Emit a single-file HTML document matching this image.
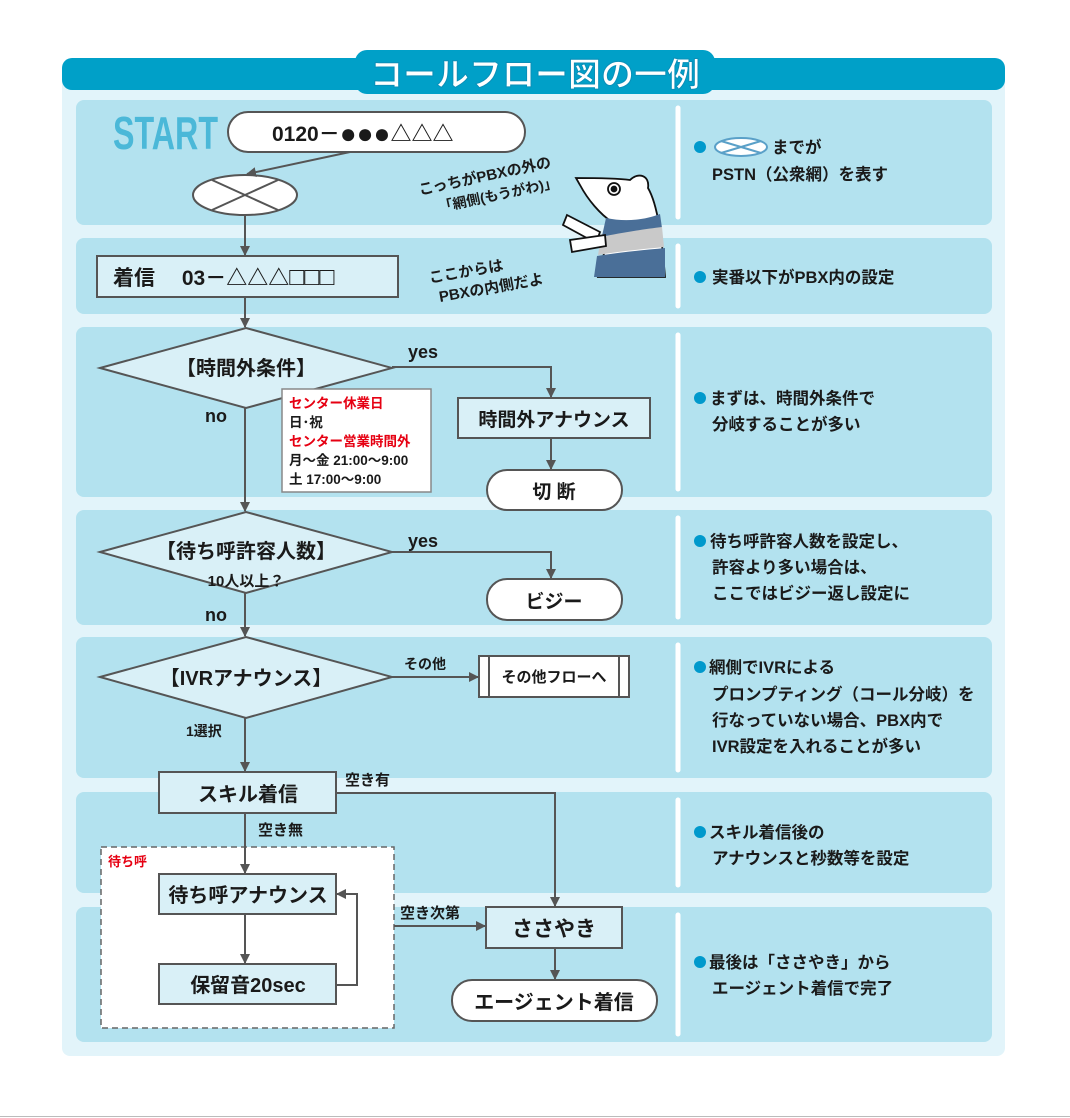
<!DOCTYPE html>
<html><head><meta charset="utf-8"><style>
html,body{margin:0;padding:0;background:#fff;}
svg{display:block;}
text{font-family:"Liberation Sans","Noto Sans CJK JP",sans-serif;fill:#1a1a1a;font-weight:bold;}
</style></head><body>
<svg width="1070" height="1118" viewBox="0 0 1070 1118" xmlns="http://www.w3.org/2000/svg">
<defs>
<marker id="a" markerWidth="10" markerHeight="10" refX="9" refY="5" orient="auto" markerUnits="userSpaceOnUse">
<path d="M0,0 L10,5 L0,10 Z" fill="#555"/></marker>
</defs>
<rect x="0" y="0" width="1070" height="1118" fill="#fff"/>
<line x1="0" y1="1116.5" x2="1070" y2="1116.5" stroke="#bbb" stroke-width="1"/>
<rect x="62" y="70" width="943" height="986" rx="8" fill="#e2f4fa"/>
<rect x="62" y="58" width="943" height="32" rx="10" fill="#00a0c8"/>
<rect x="355" y="50" width="360" height="44" rx="12" fill="#00a0c8"/>
<text x="535" y="86" text-anchor="middle" font-size="33" style="fill:#fff" stroke="#0a8fb8" stroke-width="1">コールフロー図の一例</text>
<g fill="#b3e2ef">
<rect x="76" y="100" width="916" height="125" rx="8"/>
<rect x="76" y="238" width="916" height="76" rx="8"/>
<rect x="76" y="327" width="916" height="170" rx="8"/>
<rect x="76" y="510" width="916" height="115" rx="8"/>
<rect x="76" y="637" width="916" height="141" rx="8"/>
<rect x="76" y="792" width="916" height="101" rx="8"/>
<rect x="76" y="907" width="916" height="135" rx="8"/>
</g>
<g stroke="#fff" stroke-width="5" stroke-linecap="round">
<line x1="678" y1="108" x2="678" y2="217"/>
<line x1="678" y1="246" x2="678" y2="306"/>
<line x1="678" y1="335" x2="678" y2="489"/>
<line x1="678" y1="518" x2="678" y2="617"/>
<line x1="678" y1="645" x2="678" y2="770"/>
<line x1="678" y1="800" x2="678" y2="885"/>
<line x1="678" y1="915" x2="678" y2="1034"/>
</g>
<text x="113" y="149" font-size="46" style="fill:#4bb8d8" textLength="105" lengthAdjust="spacingAndGlyphs">START</text>
<g stroke="#555" stroke-width="2">
<rect x="228" y="112" width="297" height="40" rx="20" fill="#fff"/>
<ellipse cx="245" cy="195" rx="52" ry="20" fill="#fff"/>
<line x1="212" y1="180" x2="278" y2="210"/><line x1="212" y1="210" x2="278" y2="180"/>
<rect x="97" y="256" width="301" height="41" fill="#d9f0f7"/>
<polygon points="100,368 246,328 392,368 246,408" fill="#d9f0f7"/>
<rect x="458" y="398" width="192" height="40" fill="#d9f0f7"/>
<rect x="487" y="470" width="135" height="40" rx="20" fill="#fff"/>
<polygon points="100,552 246,512 392,552 246,593" fill="#d9f0f7"/>
<rect x="487" y="579" width="135" height="41" rx="20" fill="#fff"/>
<polygon points="100,677 246,637 392,677 246,718" fill="#d9f0f7"/>
<rect x="479" y="656" width="150" height="41" fill="#fff"/>
<line x1="489" y1="656" x2="489" y2="697"/><line x1="619" y1="656" x2="619" y2="697"/>
<rect x="159" y="772" width="177" height="41" fill="#d9f0f7"/>
<rect x="486" y="907" width="136" height="41" fill="#d9f0f7"/>
<rect x="452" y="980" width="205" height="41" rx="20" fill="#fff"/>
</g>
<rect x="101" y="847" width="293" height="181" fill="#fff" stroke="#666" stroke-width="1.5" stroke-dasharray="6,4"/>
<g stroke="#555" stroke-width="2">
<rect x="159" y="874" width="177" height="40" fill="#d9f0f7"/>
<rect x="159" y="964" width="177" height="40" fill="#d9f0f7"/>
</g>
<rect x="282" y="389" width="149" height="103" fill="#fff" stroke="#888" stroke-width="1.5"/>
<g stroke="#555" stroke-width="2" fill="none">
<line x1="350" y1="152" x2="247" y2="174" marker-end="url(#a)"/>
<line x1="245" y1="215" x2="245" y2="255" marker-end="url(#a)"/>
<line x1="245" y1="297" x2="245" y2="327" marker-end="url(#a)"/>
<polyline points="392,367 551,367 551,397" marker-end="url(#a)"/>
<line x1="551" y1="438" x2="551" y2="469" marker-end="url(#a)"/>
<line x1="245" y1="408" x2="245" y2="511" marker-end="url(#a)"/>
<polyline points="392,552 551,552 551,578" marker-end="url(#a)"/>
<line x1="245" y1="593" x2="245" y2="636" marker-end="url(#a)"/>
<line x1="392" y1="677" x2="478" y2="677" marker-end="url(#a)"/>
<line x1="245" y1="718" x2="245" y2="771" marker-end="url(#a)"/>
<polyline points="336,793 555,793 555,906" marker-end="url(#a)"/>
<line x1="245" y1="813" x2="245" y2="873" marker-end="url(#a)"/>
<line x1="245" y1="914" x2="245" y2="963" marker-end="url(#a)"/>
<polyline points="336,985 357,985 357,894 337,894" marker-end="url(#a)"/>
<line x1="394" y1="926" x2="485" y2="926" marker-end="url(#a)"/>
<line x1="555" y1="948" x2="555" y2="979" marker-end="url(#a)"/>
</g>
<text x="272" y="141" font-size="21">0120－<tspan font-size="28" dy="2">●●●</tspan><tspan dy="-2">△△△</tspan></text>
<text x="113" y="285" font-size="21">着信　 03－△△△<tspan font-size="25">□□□</tspan></text>
<text x="246" y="375" text-anchor="middle" font-size="20">【時間外条件】</text>
<text x="554" y="426" text-anchor="middle" font-size="19">時間外アナウンス</text>
<text x="554" y="498" text-anchor="middle" font-size="19">切 断</text>
<text x="246" y="558" text-anchor="middle" font-size="20">【待ち呼許容人数】</text>
<text x="246" y="586" text-anchor="middle" font-size="15">10人以上？</text>
<text x="554" y="608" text-anchor="middle" font-size="19">ビジー</text>
<text x="246" y="685" text-anchor="middle" font-size="20">【IVRアナウンス】</text>
<text x="554" y="682" text-anchor="middle" font-size="15">その他フローへ</text>
<text x="248" y="801" text-anchor="middle" font-size="20">スキル着信</text>
<text x="248" y="902" text-anchor="middle" font-size="20">待ち呼アナウンス</text>
<text x="248" y="992" text-anchor="middle" font-size="20">保留音20sec</text>
<text x="554" y="936" text-anchor="middle" font-size="21">ささやき</text>
<text x="554" y="1009" text-anchor="middle" font-size="20">エージェント着信</text>
<g style="font-weight:normal">
<text x="408" y="358" font-size="18">yes</text>
<text x="205" y="422" font-size="18">no</text>
<text x="408" y="547" font-size="18">yes</text>
<text x="205" y="621" font-size="18">no</text>
</g>
<text x="404" y="669" font-size="14">その他</text>
<text x="186" y="736" font-size="14">1選択</text>
<text x="345" y="785" font-size="15">空き有</text>
<text x="258" y="835" font-size="15">空き無</text>
<text x="108" y="866" font-size="13" style="fill:#e60012">待ち呼</text>
<text x="400" y="918" font-size="15">空き次第</text>
<g font-size="13.5">
<text x="289" y="408" style="fill:#e60012">センター休業日</text>
<text x="289" y="427">日･祝</text>
<text x="289" y="446" style="fill:#e60012">センター営業時間外</text>
<text x="289" y="465">月～金 21:00～9:00</text>
<text x="289" y="484">土 17:00～9:00</text>
</g>
<g style="font-weight:normal" font-size="15">
<text x="420" y="195" transform="rotate(-12 420 195)">こっちがPBXの外の</text>
<text x="440" y="212" transform="rotate(-12 440 212)" font-size="14">「網側(もうがわ)」</text>
<text x="430" y="283" transform="rotate(-10 430 283)">ここからは</text>
<text x="440" y="302" transform="rotate(-10 440 302)">PBXの内側だよ</text>
</g>
<g stroke="#111" stroke-width="1.8">
<path d="M598,277 L612,222 C600,214 588,200 580,185 L576,178 C592,178 615,178 630,180 C638,172 650,175 648,188 C658,205 662,240 665,277 Z" fill="#fff"/>
<path d="M606,218 C625,222 645,220 660,214 L662,228 C645,232 620,236 602,236 Z" fill="#4a6f98" stroke="none"/>
<path d="M601,237 C620,233 645,229 662,227 L664,247 C645,249 620,251 598,255 Z" fill="#c9c9c9" stroke="none"/>
<path d="M597,256 C620,252 645,250 665,248 L665,277 L594,277 Z" fill="#4a6f98" stroke="none"/>
<circle cx="614" cy="189" r="6" fill="#fff"/><circle cx="614" cy="189" r="2.5" fill="#111"/>
<path d="M567,215 L600,232 L596,243 L563,225 Z" fill="#fff"/>
<path d="M570,240 L605,235 L606,246 L572,252 Z" fill="#fff"/>
</g>
<g font-size="16.5">
<circle cx="700" cy="147" r="6" fill="#0099cc"/>
<ellipse cx="741" cy="147" rx="26" ry="9" fill="#fff" stroke="#5aa0c8" stroke-width="2"/>
<line x1="721" y1="141" x2="761" y2="153" stroke="#5aa0c8" stroke-width="2"/><line x1="721" y1="153" x2="761" y2="141" stroke="#5aa0c8" stroke-width="2"/>
<text x="772" y="153">までが</text>
<text x="712" y="180">PSTN（公衆網）を表す</text>
<circle cx="700" cy="277" r="6" fill="#0099cc"/>
<text x="712" y="283">実番以下がPBX内の設定</text>
<circle cx="700" cy="398" r="6" fill="#0099cc"/>
<text x="710" y="404">まずは、時間外条件で</text>
<text x="712" y="430">分岐することが多い</text>
<circle cx="700" cy="541" r="6" fill="#0099cc"/>
<text x="710" y="547">待ち呼許容人数を設定し、</text>
<text x="712" y="573">許容より多い場合は、</text>
<text x="712" y="599">ここではビジー返し設定に</text>
<circle cx="700" cy="667" r="6" fill="#0099cc"/>
<text x="709" y="673">網側でIVRによる</text>
<text x="712" y="700">プロンプティング（コール分岐）を</text>
<text x="712" y="726">行なっていない場合、PBX内で</text>
<text x="712" y="752">IVR設定を入れることが多い</text>
<circle cx="700" cy="832" r="6" fill="#0099cc"/>
<text x="709" y="838">スキル着信後の</text>
<text x="712" y="864">アナウンスと秒数等を設定</text>
<circle cx="700" cy="962" r="6" fill="#0099cc"/>
<text x="709" y="968">最後は「ささやき」から</text>
<text x="712" y="994">エージェント着信で完了</text>
</g>
</svg>
</body></html>
